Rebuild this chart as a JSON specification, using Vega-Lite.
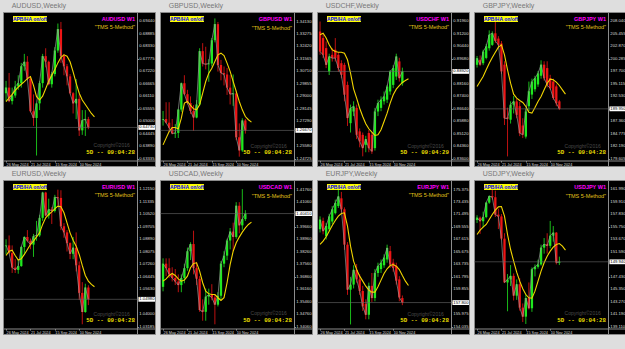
{
"$schema":"https://vega.github.io/schema/vega-lite/v6.json",
"background":"#dedede",
"padding":{"left":2,"top":1,"right":4,"bottom":16},
"spacing":2,
"config":{
 "view":{"fill":"#000000","stroke":"#8a8a8a","strokeWidth":1},
 "axis":{"grid":false,"labelFont":"Liberation Sans","labelFontSize":4.2,"labelColor":"#dcdcdc","tickColor":"#8c8c8c","domainColor":"#8c8c8c","tickSize":1.5,"labelPadding":0.5,"labelOverlap":false,"labelFlush":false,"labelBound":false},
 "text":{"font":"Liberation Sans"},
 "title":{"fontSize":7,"font":"Liberation Sans","color":"#787878","anchor":"start","offset":3,"fontWeight":"normal","dx":9},
 "concat":{"spacing":3}
},
"datasets":{
"AUDUSD_t":[{"v":0.6944},{"v":0.68885},{"v":0.6833},{"v":0.67775},{"v":0.6722},{"v":0.66665},{"v":0.6611},{"v":0.65555},{"v":0.65},{"v":0.64445},{"v":0.6389},{"v":0.63335}],
"GBPUSD_t":[{"v":1.3413},{"v":1.33275},{"v":1.3242},{"v":1.31565},{"v":1.3071},{"v":1.29855},{"v":1.29},{"v":1.28145},{"v":1.2729},{"v":1.2558},{"v":1.24725}],
"USDCHF_t":[{"v":0.9196},{"v":0.912},{"v":0.9044},{"v":0.8968},{"v":0.8816},{"v":0.874},{"v":0.8664},{"v":0.8588},{"v":0.8512},{"v":0.8436},{"v":0.836}],
"GBPJPY_t":[{"v":208.04},{"v":205.455},{"v":202.87},{"v":200.285},{"v":197.7},{"v":195.115},{"v":192.53},{"v":187.36},{"v":184.775},{"v":182.19},{"v":179.605}],
"EURUSD_t":[{"v":1.1215},{"v":1.11335},{"v":1.1052},{"v":1.09705},{"v":1.0889},{"v":1.08075},{"v":1.0726},{"v":1.06445},{"v":1.0563},{"v":1.04},{"v":1.03185}],
"USDCAD_t":[{"v":1.4176},{"v":1.4106},{"v":1.3966},{"v":1.3896},{"v":1.3826},{"v":1.3756},{"v":1.3686},{"v":1.3616},{"v":1.3546},{"v":1.3476},{"v":1.3406}],
"EURJPY_t":[{"v":175.375},{"v":173.435},{"v":171.495},{"v":169.555},{"v":167.615},{"v":165.675},{"v":163.735},{"v":161.795},{"v":159.855},{"v":155.975},{"v":154.035}],
"USDJPY_t":[{"v":161.99},{"v":159.91},{"v":157.83},{"v":155.75},{"v":153.67},{"v":151.59},{"v":147.43},{"v":145.35},{"v":143.27},{"v":141.19},{"v":139.11}],
"AUDUSD":[{"d":"2024-05-26","o":0.6625,"h":0.668,"l":0.659,"c":0.665},{"d":"2024-06-02","o":0.665,"h":0.6715,"l":0.6585,"c":0.659},{"d":"2024-06-09","o":0.659,"h":0.665,"l":0.6575,"c":0.6615},{"d":"2024-06-16","o":0.6615,"h":0.668,"l":0.6605,"c":0.6655},{"d":"2024-06-23","o":0.6655,"h":0.6705,"l":0.664,"c":0.667},{"d":"2024-06-30","o":0.667,"h":0.676,"l":0.665,"c":0.6745},{"d":"2024-07-07","o":0.6745,"h":0.68,"l":0.6725,"c":0.6765},{"d":"2024-07-14","o":0.6765,"h":0.679,"l":0.6685,"c":0.669},{"d":"2024-07-21","o":0.669,"h":0.67,"l":0.654,"c":0.6545},{"d":"2024-07-28","o":0.6545,"h":0.662,"l":0.648,"c":0.6515},{"d":"2024-08-04","o":0.6515,"h":0.658,"l":0.6348,"c":0.658},{"d":"2024-08-11","o":0.658,"h":0.668,"l":0.655,"c":0.667},{"d":"2024-08-18","o":0.667,"h":0.68,"l":0.665,"c":0.679},{"d":"2024-08-25","o":0.679,"h":0.6825,"l":0.674,"c":0.6765},{"d":"2024-09-01","o":0.6765,"h":0.677,"l":0.666,"c":0.6665},{"d":"2024-09-08","o":0.6665,"h":0.672,"l":0.665,"c":0.671},{"d":"2024-09-15","o":0.671,"h":0.683,"l":0.67,"c":0.6815},{"d":"2024-09-22","o":0.6815,"h":0.6935,"l":0.6805,"c":0.691},{"d":"2024-09-29","o":0.691,"h":0.6942,"l":0.676,"c":0.679},{"d":"2024-10-06","o":0.679,"h":0.68,"l":0.6705,"c":0.6745},{"d":"2024-10-13","o":0.6745,"h":0.6755,"l":0.666,"c":0.67},{"d":"2024-10-20","o":0.67,"h":0.671,"l":0.662,"c":0.6625},{"d":"2024-10-27","o":0.6625,"h":0.663,"l":0.6535,"c":0.658},{"d":"2024-11-03","o":0.658,"h":0.6688,"l":0.651,"c":0.66},{"d":"2024-11-10","o":0.66,"h":0.662,"l":0.6435,"c":0.646},{"d":"2024-11-17","o":0.646,"h":0.655,"l":0.644,"c":0.6505},{"d":"2024-11-24","o":0.6505,"h":0.655,"l":0.6435,"c":0.651},{"d":"2024-12-01","o":0.651,"h":0.652,"l":0.6465,"c":0.6473}],
"AUDUSD_m":[{"d":"2024-05-26","v":0.6588},{"d":"2024-06-02","v":0.6605},{"d":"2024-06-09","v":0.662},{"d":"2024-06-16","v":0.6638},{"d":"2024-06-23","v":0.6652},{"d":"2024-06-30","v":0.6665},{"d":"2024-07-07","v":0.6677},{"d":"2024-07-14","v":0.669},{"d":"2024-07-21","v":0.6699},{"d":"2024-07-28","v":0.666},{"d":"2024-08-04","v":0.661},{"d":"2024-08-11","v":0.6595},{"d":"2024-08-18","v":0.6612},{"d":"2024-08-25","v":0.6645},{"d":"2024-09-01","v":0.668},{"d":"2024-09-08","v":0.6705},{"d":"2024-09-15","v":0.673},{"d":"2024-09-22","v":0.676},{"d":"2024-09-29","v":0.6785},{"d":"2024-10-06","v":0.6796},{"d":"2024-10-13","v":0.679},{"d":"2024-10-20","v":0.6765},{"d":"2024-10-27","v":0.672},{"d":"2024-11-03","v":0.667},{"d":"2024-11-10","v":0.6625},{"d":"2024-11-17","v":0.6595},{"d":"2024-11-24","v":0.6575},{"d":"2024-12-01","v":0.6555},{"d":"2024-12-08","v":0.6535},{"d":"2024-12-15","v":0.652}],
"GBPUSD":[{"d":"2024-05-26","o":1.274,"h":1.28,"l":1.27,"c":1.2745},{"d":"2024-06-02","o":1.2745,"h":1.286,"l":1.2715,"c":1.272},{"d":"2024-06-09","o":1.272,"h":1.286,"l":1.2655,"c":1.2685},{"d":"2024-06-16","o":1.2685,"h":1.2745,"l":1.264,"c":1.2645},{"d":"2024-06-23","o":1.2645,"h":1.271,"l":1.2615,"c":1.265},{"d":"2024-06-30","o":1.265,"h":1.2815,"l":1.2615,"c":1.281},{"d":"2024-07-07","o":1.281,"h":1.2995,"l":1.2795,"c":1.299},{"d":"2024-07-14","o":1.299,"h":1.3045,"l":1.291,"c":1.2915},{"d":"2024-07-21","o":1.2915,"h":1.2945,"l":1.2845,"c":1.2855},{"d":"2024-07-28","o":1.2855,"h":1.29,"l":1.278,"c":1.28},{"d":"2024-08-04","o":1.28,"h":1.284,"l":1.2665,"c":1.2755},{"d":"2024-08-11","o":1.2755,"h":1.2875,"l":1.275,"c":1.2845},{"d":"2024-08-18","o":1.2845,"h":1.323,"l":1.2835,"c":1.321},{"d":"2024-08-25","o":1.321,"h":1.3265,"l":1.3105,"c":1.3125},{"d":"2024-09-01","o":1.3125,"h":1.324,"l":1.3085,"c":1.312},{"d":"2024-09-08","o":1.312,"h":1.3155,"l":1.3,"c":1.3125},{"d":"2024-09-15","o":1.3125,"h":1.33,"l":1.3105,"c":1.3285},{"d":"2024-09-22","o":1.3285,"h":1.3434,"l":1.327,"c":1.3395},{"d":"2024-09-29","o":1.3395,"h":1.341,"l":1.307,"c":1.3115},{"d":"2024-10-06","o":1.3115,"h":1.315,"l":1.301,"c":1.306},{"d":"2024-10-13","o":1.306,"h":1.3105,"l":1.2975,"c":1.305},{"d":"2024-10-20","o":1.305,"h":1.3095,"l":1.291,"c":1.296},{"d":"2024-10-27","o":1.296,"h":1.3045,"l":1.2845,"c":1.2915},{"d":"2024-11-03","o":1.2915,"h":1.305,"l":1.2835,"c":1.292},{"d":"2024-11-10","o":1.292,"h":1.294,"l":1.26,"c":1.262},{"d":"2024-11-17","o":1.262,"h":1.2715,"l":1.2487,"c":1.253},{"d":"2024-11-24","o":1.253,"h":1.275,"l":1.252,"c":1.2735},{"d":"2024-12-01","o":1.2735,"h":1.2745,"l":1.2645,"c":1.2667}],
"GBPUSD_m":[{"d":"2024-05-26","v":1.2568},{"d":"2024-06-02","v":1.2614},{"d":"2024-06-09","v":1.266},{"d":"2024-06-16","v":1.2687},{"d":"2024-06-23","v":1.2687},{"d":"2024-06-30","v":1.2678},{"d":"2024-07-07","v":1.2751},{"d":"2024-07-14","v":1.2854},{"d":"2024-07-21","v":1.2865},{"d":"2024-07-28","v":1.2838},{"d":"2024-08-04","v":1.2815},{"d":"2024-08-11","v":1.2808},{"d":"2024-08-18","v":1.2842},{"d":"2024-08-25","v":1.2922},{"d":"2024-09-01","v":1.3002},{"d":"2024-09-08","v":1.3059},{"d":"2024-09-15","v":1.3093},{"d":"2024-09-22","v":1.3139},{"d":"2024-09-29","v":1.3185},{"d":"2024-10-06","v":1.3196},{"d":"2024-10-13","v":1.318},{"d":"2024-10-20","v":1.3128},{"d":"2024-10-27","v":1.3071},{"d":"2024-11-03","v":1.3002},{"d":"2024-11-10","v":1.2934},{"d":"2024-11-17","v":1.2865},{"d":"2024-11-24","v":1.2808},{"d":"2024-12-01","v":1.2762},{"d":"2024-12-08","v":1.274},{"d":"2024-12-15","v":1.2724}],
"USDCHF":[{"d":"2024-05-26","o":0.9135,"h":0.9196,"l":0.8993,"c":0.9013},{"d":"2024-06-02","o":0.9095,"h":0.912,"l":0.8973,"c":0.8993},{"d":"2024-06-09","o":0.9034,"h":0.9075,"l":0.8912,"c":0.8932},{"d":"2024-06-16","o":0.8892,"h":0.9,"l":0.887,"c":0.8983},{"d":"2024-06-23","o":0.8993,"h":0.9034,"l":0.8952,"c":0.8973},{"d":"2024-06-30","o":0.9024,"h":0.9095,"l":0.8952,"c":0.8973},{"d":"2024-07-07","o":0.8993,"h":0.901,"l":0.889,"c":0.8912},{"d":"2024-07-14","o":0.8942,"h":0.896,"l":0.885,"c":0.8871},{"d":"2024-07-21","o":0.8932,"h":0.8945,"l":0.871,"c":0.875},{"d":"2024-07-28","o":0.881,"h":0.883,"l":0.856,"c":0.8608},{"d":"2024-08-04","o":0.8577,"h":0.869,"l":0.852,"c":0.8668},{"d":"2024-08-11","o":0.8648,"h":0.871,"l":0.862,"c":0.8679},{"d":"2024-08-18","o":0.867,"h":0.869,"l":0.848,"c":0.8506},{"d":"2024-08-25","o":0.8527,"h":0.8545,"l":0.843,"c":0.8466},{"d":"2024-09-01","o":0.8506,"h":0.852,"l":0.8375,"c":0.8425},{"d":"2024-09-08","o":0.8445,"h":0.85,"l":0.84,"c":0.848},{"d":"2024-09-15","o":0.8517,"h":0.8535,"l":0.84,"c":0.8425},{"d":"2024-09-22","o":0.8506,"h":0.852,"l":0.839,"c":0.8405},{"d":"2024-09-29","o":0.8425,"h":0.867,"l":0.841,"c":0.8648},{"d":"2024-10-06","o":0.8648,"h":0.872,"l":0.862,"c":0.8699},{"d":"2024-10-13","o":0.867,"h":0.874,"l":0.865,"c":0.872},{"d":"2024-10-20","o":0.871,"h":0.877,"l":0.869,"c":0.874},{"d":"2024-10-27","o":0.872,"h":0.881,"l":0.87,"c":0.88},{"d":"2024-11-03","o":0.877,"h":0.89,"l":0.875,"c":0.8892},{"d":"2024-11-10","o":0.881,"h":0.893,"l":0.879,"c":0.8912},{"d":"2024-11-17","o":0.8861,"h":0.9,"l":0.884,"c":0.8983},{"d":"2024-11-24","o":0.8953,"h":0.8975,"l":0.883,"c":0.8851},{"d":"2024-12-01","o":0.882,"h":0.8915,"l":0.8805,"c":0.8892}],
"USDCHF_m":[{"d":"2024-05-26","v":0.9115},{"d":"2024-06-02","v":0.9125},{"d":"2024-06-09","v":0.9095},{"d":"2024-06-16","v":0.9054},{"d":"2024-06-23","v":0.9024},{"d":"2024-06-30","v":0.9013},{"d":"2024-07-07","v":0.9009},{"d":"2024-07-14","v":0.9009},{"d":"2024-07-21","v":0.9003},{"d":"2024-07-28","v":0.8963},{"d":"2024-08-04","v":0.8881},{"d":"2024-08-11","v":0.8786},{"d":"2024-08-18","v":0.8729},{"d":"2024-08-25","v":0.8668},{"d":"2024-09-01","v":0.8618},{"d":"2024-09-08","v":0.8573},{"d":"2024-09-15","v":0.8543},{"d":"2024-09-22","v":0.8522},{"d":"2024-09-29","v":0.8502},{"d":"2024-10-06","v":0.8506},{"d":"2024-10-13","v":0.8537},{"d":"2024-10-20","v":0.8587},{"d":"2024-10-27","v":0.8638},{"d":"2024-11-03","v":0.8699},{"d":"2024-11-10","v":0.875},{"d":"2024-11-17","v":0.8784},{"d":"2024-11-24","v":0.8806},{"d":"2024-12-01","v":0.8825},{"d":"2024-12-08","v":0.8837},{"d":"2024-12-15","v":0.8847}],
"GBPJPY":[{"d":"2024-05-26","o":199.07,"h":200.9,"l":198.5,"c":200.45},{"d":"2024-06-02","o":200.1,"h":201.0,"l":198.8,"c":199.1},{"d":"2024-06-09","o":199.4,"h":202.2,"l":199.0,"c":201.8},{"d":"2024-06-16","o":200.5,"h":203.4,"l":200.2,"c":202.9},{"d":"2024-06-23","o":202.5,"h":206.2,"l":202.0,"c":205.3},{"d":"2024-06-30","o":203.2,"h":206.0,"l":203.0,"c":205.6},{"d":"2024-07-07","o":205.6,"h":208.04,"l":203.6,"c":204.0},{"d":"2024-07-14","o":204.5,"h":205.0,"l":202.6,"c":203.2},{"d":"2024-07-21","o":203.5,"h":204.0,"l":197.2,"c":197.7},{"d":"2024-07-28","o":199.1,"h":199.8,"l":186.6,"c":188.0},{"d":"2024-08-04","o":188.2,"h":190.2,"l":180.1,"c":187.9},{"d":"2024-08-11","o":187.7,"h":191.5,"l":186.9,"c":190.8},{"d":"2024-08-18","o":190.8,"h":192.6,"l":189.0,"c":191.5},{"d":"2024-08-25","o":191.5,"h":192.0,"l":188.0,"c":188.7},{"d":"2024-09-01","o":190.5,"h":191.4,"l":184.3,"c":184.9},{"d":"2024-09-08","o":186.5,"h":188.0,"l":183.9,"c":184.6},{"d":"2024-09-15","o":184.2,"h":190.0,"l":183.8,"c":189.4},{"d":"2024-09-22","o":190.5,"h":195.6,"l":189.5,"c":193.6},{"d":"2024-09-29","o":192.9,"h":196.2,"l":192.0,"c":195.6},{"d":"2024-10-06","o":194.0,"h":196.8,"l":193.5,"c":196.3},{"d":"2024-10-13","o":195.0,"h":197.8,"l":194.5,"c":197.3},{"d":"2024-10-20","o":196.8,"h":200.0,"l":196.2,"c":199.1},{"d":"2024-10-27","o":199.1,"h":199.8,"l":195.8,"c":196.3},{"d":"2024-11-03","o":198.4,"h":199.8,"l":194.4,"c":194.9},{"d":"2024-11-10","o":196.3,"h":197.0,"l":193.9,"c":194.2},{"d":"2024-11-17","o":195.6,"h":196.2,"l":191.8,"c":192.2},{"d":"2024-11-24","o":194.6,"h":195.0,"l":190.5,"c":191.1},{"d":"2024-12-01","o":191.5,"h":191.8,"l":189.7,"c":189.95}],
"GBPJPY_m":[{"d":"2024-05-26","v":194.58},{"d":"2024-06-02","v":195.61},{"d":"2024-06-09","v":196.65},{"d":"2024-06-16","v":198.03},{"d":"2024-06-23","v":199.41},{"d":"2024-06-30","v":200.58},{"d":"2024-07-07","v":201.69},{"d":"2024-07-14","v":202.72},{"d":"2024-07-21","v":203.21},{"d":"2024-07-28","v":201.14},{"d":"2024-08-04","v":198.03},{"d":"2024-08-11","v":195.27},{"d":"2024-08-18","v":192.99},{"d":"2024-08-25","v":192.16},{"d":"2024-09-01","v":191.68},{"d":"2024-09-08","v":191.27},{"d":"2024-09-15","v":190.44},{"d":"2024-09-22","v":189.26},{"d":"2024-09-29","v":189.06},{"d":"2024-10-06","v":190.23},{"d":"2024-10-13","v":191.47},{"d":"2024-10-20","v":192.51},{"d":"2024-10-27","v":193.89},{"d":"2024-11-03","v":195.27},{"d":"2024-11-10","v":196.1},{"d":"2024-11-17","v":195.96},{"d":"2024-11-24","v":195.48},{"d":"2024-12-01","v":194.79},{"d":"2024-12-08","v":193.89},{"d":"2024-12-15","v":192.99}],
"EURUSD":[{"d":"2024-05-26","o":1.0845,"h":1.089,"l":1.079,"c":1.085},{"d":"2024-06-02","o":1.085,"h":1.0915,"l":1.0795,"c":1.08},{"d":"2024-06-09","o":1.08,"h":1.085,"l":1.067,"c":1.0705},{"d":"2024-06-16","o":1.0705,"h":1.076,"l":1.067,"c":1.069},{"d":"2024-06-23","o":1.069,"h":1.076,"l":1.0665,"c":1.0715},{"d":"2024-06-30","o":1.0715,"h":1.0845,"l":1.071,"c":1.084},{"d":"2024-07-07","o":1.084,"h":1.091,"l":1.079,"c":1.0905},{"d":"2024-07-14","o":1.0905,"h":1.095,"l":1.087,"c":1.088},{"d":"2024-07-21","o":1.088,"h":1.0895,"l":1.0825,"c":1.0855},{"d":"2024-07-28","o":1.0855,"h":1.0925,"l":1.0775,"c":1.091},{"d":"2024-08-04","o":1.091,"h":1.101,"l":1.088,"c":1.0915},{"d":"2024-08-11","o":1.0915,"h":1.105,"l":1.0905,"c":1.103},{"d":"2024-08-18","o":1.103,"h":1.12,"l":1.101,"c":1.1195},{"d":"2024-08-25","o":1.1195,"h":1.12,"l":1.104,"c":1.1045},{"d":"2024-09-01","o":1.1045,"h":1.1155,"l":1.1025,"c":1.1085},{"d":"2024-09-08","o":1.1085,"h":1.11,"l":1.099,"c":1.1075},{"d":"2024-09-15","o":1.1075,"h":1.118,"l":1.1065,"c":1.1165},{"d":"2024-09-22","o":1.1165,"h":1.1214,"l":1.111,"c":1.116},{"d":"2024-09-29","o":1.116,"h":1.121,"l":1.095,"c":1.0975},{"d":"2024-10-06","o":1.0975,"h":1.0995,"l":1.09,"c":1.0935},{"d":"2024-10-13","o":1.0935,"h":1.095,"l":1.081,"c":1.0865},{"d":"2024-10-20","o":1.0865,"h":1.087,"l":1.076,"c":1.0795},{"d":"2024-10-27","o":1.0795,"h":1.0905,"l":1.076,"c":1.0835},{"d":"2024-11-03","o":1.0835,"h":1.0935,"l":1.068,"c":1.072},{"d":"2024-11-10","o":1.072,"h":1.0745,"l":1.0495,"c":1.054},{"d":"2024-11-17","o":1.054,"h":1.061,"l":1.0335,"c":1.0415},{"d":"2024-11-24","o":1.0415,"h":1.06,"l":1.041,"c":1.0575},{"d":"2024-12-01","o":1.0575,"h":1.059,"l":1.046,"c":1.0498}],
"EURUSD_m":[{"d":"2024-05-26","v":1.0784},{"d":"2024-06-02","v":1.0812},{"d":"2024-06-09","v":1.0819},{"d":"2024-06-16","v":1.0784},{"d":"2024-06-23","v":1.0754},{"d":"2024-06-30","v":1.0762},{"d":"2024-07-07","v":1.0791},{"d":"2024-07-14","v":1.0823},{"d":"2024-07-21","v":1.0856},{"d":"2024-07-28","v":1.0878},{"d":"2024-08-04","v":1.0906},{"d":"2024-08-11","v":1.0932},{"d":"2024-08-18","v":1.0987},{"d":"2024-08-25","v":1.103},{"d":"2024-09-01","v":1.1052},{"d":"2024-09-08","v":1.1069},{"d":"2024-09-15","v":1.1089},{"d":"2024-09-22","v":1.1106},{"d":"2024-09-29","v":1.1102},{"d":"2024-10-06","v":1.1063},{"d":"2024-10-13","v":1.0997},{"d":"2024-10-20","v":1.0932},{"d":"2024-10-27","v":1.0884},{"d":"2024-11-03","v":1.0845},{"d":"2024-11-10","v":1.0791},{"d":"2024-11-17","v":1.0719},{"d":"2024-11-24","v":1.0654},{"d":"2024-12-01","v":1.0617},{"d":"2024-12-08","v":1.0595},{"d":"2024-12-15","v":1.058}],
"USDCAD":[{"d":"2024-05-26","o":1.363,"h":1.379,"l":1.3605,"c":1.376},{"d":"2024-06-02","o":1.376,"h":1.379,"l":1.369,"c":1.3735},{"d":"2024-06-09","o":1.3735,"h":1.379,"l":1.368,"c":1.37},{"d":"2024-06-16","o":1.37,"h":1.374,"l":1.366,"c":1.368},{"d":"2024-06-23","o":1.368,"h":1.373,"l":1.364,"c":1.366},{"d":"2024-06-30","o":1.366,"h":1.37,"l":1.36,"c":1.364},{"d":"2024-07-07","o":1.364,"h":1.37,"l":1.36,"c":1.368},{"d":"2024-07-14","o":1.368,"h":1.376,"l":1.365,"c":1.3735},{"d":"2024-07-21","o":1.3735,"h":1.385,"l":1.372,"c":1.383},{"d":"2024-07-28","o":1.383,"h":1.388,"l":1.378,"c":1.387},{"d":"2024-08-04","o":1.387,"h":1.3945,"l":1.37,"c":1.3735},{"d":"2024-08-11","o":1.3735,"h":1.377,"l":1.364,"c":1.3675},{"d":"2024-08-18","o":1.3675,"h":1.369,"l":1.349,"c":1.35},{"d":"2024-08-25","o":1.35,"h":1.356,"l":1.344,"c":1.349},{"d":"2024-09-01","o":1.349,"h":1.362,"l":1.344,"c":1.3575},{"d":"2024-09-08","o":1.3575,"h":1.362,"l":1.353,"c":1.3585},{"d":"2024-09-15","o":1.3585,"h":1.3645,"l":1.3555,"c":1.357},{"d":"2024-09-22","o":1.357,"h":1.359,"l":1.342,"c":1.353},{"d":"2024-09-29","o":1.353,"h":1.36,"l":1.352,"c":1.358},{"d":"2024-10-06","o":1.358,"h":1.3775,"l":1.356,"c":1.376},{"d":"2024-10-13","o":1.376,"h":1.383,"l":1.374,"c":1.3805},{"d":"2024-10-20","o":1.3805,"h":1.39,"l":1.378,"c":1.389},{"d":"2024-10-27","o":1.389,"h":1.396,"l":1.384,"c":1.394},{"d":"2024-11-03","o":1.394,"h":1.399,"l":1.383,"c":1.391},{"d":"2024-11-10","o":1.391,"h":1.4105,"l":1.39,"c":1.4085},{"d":"2024-11-17","o":1.4085,"h":1.4105,"l":1.393,"c":1.3975},{"d":"2024-11-24","o":1.3975,"h":1.4178,"l":1.395,"c":1.401},{"d":"2024-12-01","o":1.401,"h":1.406,"l":1.4,"c":1.4041}],
"USDCAD_m":[{"d":"2024-05-26","v":1.3662},{"d":"2024-06-02","v":1.3675},{"d":"2024-06-09","v":1.3694},{"d":"2024-06-16","v":1.3705},{"d":"2024-06-23","v":1.3694},{"d":"2024-06-30","v":1.3675},{"d":"2024-07-07","v":1.3662},{"d":"2024-07-14","v":1.3668},{"d":"2024-07-21","v":1.369},{"d":"2024-07-28","v":1.3737},{"d":"2024-08-04","v":1.3761},{"d":"2024-08-11","v":1.3765},{"d":"2024-08-18","v":1.3718},{"d":"2024-08-25","v":1.3653},{"d":"2024-09-01","v":1.3606},{"d":"2024-09-08","v":1.3591},{"d":"2024-09-15","v":1.3587},{"d":"2024-09-22","v":1.3587},{"d":"2024-09-29","v":1.3569},{"d":"2024-10-06","v":1.3554},{"d":"2024-10-13","v":1.3569},{"d":"2024-10-20","v":1.3653},{"d":"2024-10-27","v":1.3755},{"d":"2024-11-03","v":1.383},{"d":"2024-11-10","v":1.3877},{"d":"2024-11-17","v":1.3909},{"d":"2024-11-24","v":1.3937},{"d":"2024-12-01","v":1.3961},{"d":"2024-12-08","v":1.398},{"d":"2024-12-15","v":1.3993}],
"EURJPY":[{"d":"2024-05-26","o":169.2,"h":171.2,"l":168.7,"c":170.7},{"d":"2024-06-02","o":170.5,"h":171.0,"l":168.4,"c":168.9},{"d":"2024-06-09","o":168.1,"h":170.2,"l":167.6,"c":169.7},{"d":"2024-06-16","o":169.2,"h":171.6,"l":168.9,"c":171.2},{"d":"2024-06-23","o":170.4,"h":172.8,"l":170.0,"c":172.3},{"d":"2024-06-30","o":171.7,"h":173.8,"l":171.5,"c":173.3},{"d":"2024-07-07","o":172.8,"h":175.38,"l":172.5,"c":174.3},{"d":"2024-07-14","o":174.0,"h":175.0,"l":171.8,"c":172.3},{"d":"2024-07-21","o":172.3,"h":172.6,"l":166.0,"c":166.8},{"d":"2024-07-28","o":166.8,"h":167.2,"l":159.0,"c":159.8},{"d":"2024-08-04","o":159.8,"h":161.8,"l":154.4,"c":160.6},{"d":"2024-08-11","o":160.6,"h":163.6,"l":160.0,"c":162.9},{"d":"2024-08-18","o":162.9,"h":163.8,"l":160.9,"c":161.4},{"d":"2024-08-25","o":161.4,"h":162.2,"l":159.0,"c":159.6},{"d":"2024-09-01","o":159.6,"h":160.4,"l":156.5,"c":157.2},{"d":"2024-09-08","o":157.6,"h":158.3,"l":155.2,"c":155.9},{"d":"2024-09-15","o":155.9,"h":160.9,"l":155.2,"c":160.4},{"d":"2024-09-22","o":160.4,"h":162.4,"l":157.9,"c":158.5},{"d":"2024-09-29","o":158.5,"h":163.0,"l":158.0,"c":162.4},{"d":"2024-10-06","o":162.4,"h":164.0,"l":161.8,"c":163.5},{"d":"2024-10-13","o":163.0,"h":164.5,"l":162.4,"c":164.0},{"d":"2024-10-20","o":163.6,"h":165.3,"l":163.2,"c":164.8},{"d":"2024-10-27","o":164.5,"h":166.8,"l":164.0,"c":166.3},{"d":"2024-11-03","o":165.8,"h":166.6,"l":163.2,"c":163.7},{"d":"2024-11-10","o":164.0,"h":164.6,"l":162.6,"c":163.2},{"d":"2024-11-17","o":163.5,"h":164.0,"l":160.6,"c":161.2},{"d":"2024-11-24","o":161.4,"h":161.9,"l":158.0,"c":158.6},{"d":"2024-12-01","o":158.5,"h":158.9,"l":157.4,"c":157.8}],
"EURJPY_m":[{"d":"2024-05-26","v":166.83},{"d":"2024-06-02","v":167.35},{"d":"2024-06-09","v":168.02},{"d":"2024-06-16","v":168.9},{"d":"2024-06-23","v":169.78},{"d":"2024-06-30","v":170.56},{"d":"2024-07-07","v":171.23},{"d":"2024-07-14","v":171.65},{"d":"2024-07-21","v":171.75},{"d":"2024-07-28","v":169.68},{"d":"2024-08-04","v":166.57},{"d":"2024-08-11","v":164.24},{"d":"2024-08-18","v":162.94},{"d":"2024-08-25","v":161.91},{"d":"2024-09-01","v":161.13},{"d":"2024-09-08","v":160.35},{"d":"2024-09-15","v":159.73},{"d":"2024-09-22","v":159.42},{"d":"2024-09-29","v":159.42},{"d":"2024-10-06","v":160.25},{"d":"2024-10-13","v":161.29},{"d":"2024-10-20","v":162.32},{"d":"2024-10-27","v":163.05},{"d":"2024-11-03","v":163.56},{"d":"2024-11-10","v":163.72},{"d":"2024-11-17","v":163.46},{"d":"2024-11-24","v":162.94},{"d":"2024-12-01","v":162.01},{"d":"2024-12-08","v":161.13},{"d":"2024-12-15","v":160.46}],
"USDJPY":[{"d":"2024-05-26","o":156.9,"h":157.7,"l":156.4,"c":157.3},{"d":"2024-06-02","o":157.3,"h":157.5,"l":154.6,"c":156.7},{"d":"2024-06-09","o":156.7,"h":158.3,"l":155.7,"c":157.4},{"d":"2024-06-16","o":157.4,"h":159.9,"l":157.2,"c":159.8},{"d":"2024-06-23","o":159.8,"h":161.0,"l":159.6,"c":160.9},{"d":"2024-06-30","o":160.9,"h":161.95,"l":160.3,"c":160.7},{"d":"2024-07-07","o":160.7,"h":161.8,"l":157.4,"c":157.8},{"d":"2024-07-14","o":157.8,"h":158.8,"l":155.4,"c":157.5},{"d":"2024-07-21","o":157.5,"h":157.9,"l":153.6,"c":153.8},{"d":"2024-07-28","o":153.8,"h":154.7,"l":146.4,"c":146.5},{"d":"2024-08-04","o":146.5,"h":147.9,"l":141.7,"c":147.0},{"d":"2024-08-11","o":147.0,"h":149.4,"l":145.9,"c":147.6},{"d":"2024-08-18","o":147.6,"h":148.0,"l":143.5,"c":144.3},{"d":"2024-08-25","o":144.3,"h":147.0,"l":143.6,"c":146.2},{"d":"2024-09-01","o":146.2,"h":147.2,"l":141.8,"c":142.3},{"d":"2024-09-08","o":142.3,"h":143.0,"l":139.9,"c":140.8},{"d":"2024-09-15","o":140.8,"h":144.5,"l":139.58,"c":143.9},{"d":"2024-09-22","o":143.9,"h":146.5,"l":142.0,"c":142.2},{"d":"2024-09-29","o":142.2,"h":149.0,"l":141.6,"c":148.7},{"d":"2024-10-06","o":148.7,"h":149.5,"l":147.5,"c":149.1},{"d":"2024-10-13","o":149.1,"h":150.3,"l":148.8,"c":149.5},{"d":"2024-10-20","o":149.5,"h":152.8,"l":149.3,"c":152.3},{"d":"2024-10-27","o":152.3,"h":153.9,"l":151.3,"c":152.9},{"d":"2024-11-03","o":152.9,"h":154.7,"l":151.3,"c":152.6},{"d":"2024-11-10","o":152.6,"h":156.75,"l":152.2,"c":154.3},{"d":"2024-11-17","o":154.3,"h":155.9,"l":153.3,"c":154.8},{"d":"2024-11-24","o":154.8,"h":154.9,"l":149.5,"c":149.8},{"d":"2024-12-01","o":149.8,"h":150.8,"l":149.4,"c":149.94}],
"USDJPY_m":[{"d":"2024-05-26","v":154.49},{"d":"2024-06-02","v":155.21},{"d":"2024-06-09","v":155.71},{"d":"2024-06-16","v":156.16},{"d":"2024-06-23","v":156.99},{"d":"2024-06-30","v":157.82},{"d":"2024-07-07","v":158.55},{"d":"2024-07-14","v":159.1},{"d":"2024-07-21","v":159.16},{"d":"2024-07-28","v":157.55},{"d":"2024-08-04","v":154.49},{"d":"2024-08-11","v":151.99},{"d":"2024-08-18","v":150.05},{"d":"2024-08-25","v":148.22},{"d":"2024-09-01","v":146.72},{"d":"2024-09-08","v":145.44},{"d":"2024-09-15","v":144.49},{"d":"2024-09-22","v":143.94},{"d":"2024-09-29","v":143.88},{"d":"2024-10-06","v":145.05},{"d":"2024-10-13","v":146.72},{"d":"2024-10-20","v":148.38},{"d":"2024-10-27","v":149.77},{"d":"2024-11-03","v":150.88},{"d":"2024-11-10","v":151.72},{"d":"2024-11-17","v":152.38},{"d":"2024-11-24","v":152.83},{"d":"2024-12-01","v":152.99},{"d":"2024-12-08","v":152.55},{"d":"2024-12-15","v":151.88}]
},
"vconcat":[
{"hconcat":[
{"title":{"text":"AUDUSD,Weekly"},"width":152,"height":154,"layer":[
 {"data":{"name":"AUDUSD"},"mark":{"type":"rule","strokeWidth":0.8},"encoding":{"x":{"field":"d","type":"temporal","scale":{"domain":[{"year":2024,"month":5,"date":19},{"year":2025,"month":5,"date":3}],"nice":false,"padding":0},"axis":{"orient":"bottom","offset":-5.5,"values":[{"year":2024,"month":5,"date":26},{"year":2024,"month":7,"date":21},{"year":2024,"month":9,"date":15},{"year":2024,"month":11,"date":10}],"format":"%d %b %Y","labelAlign":"left","labelFontSize":3.8,"labelOverlap":false,"title":null}},"y":{"field":"l","type":"quantitative","scale":{"domain":[0.63015,0.69862],"nice":false,"zero":false,"padding":0},"axis":{"orient":"right","offset":-18,"values":[0.6944,0.68885,0.6833,0.67775,0.6722,0.66665,0.6611,0.65555,0.65,0.64445,0.6389,0.63335],"labels":false,"title":null}},"y2":{"field":"h"},"color":{"condition":{"test":"datum.c >= datum.o","value":"#1fe81f"},"value":"#ee1515"}}},
 {"data":{"name":"AUDUSD"},"mark":{"type":"bar","width":2.3},"encoding":{"x":{"field":"d","type":"temporal","title":null},"y":{"field":"o","type":"quantitative","title":null},"y2":{"field":"c"},"color":{"condition":{"test":"datum.c >= datum.o","value":"#1fe81f"},"value":"#ee1515"}}},
 {"data":{"name":"AUDUSD"},"mark":{"type":"line","color":"#9a9a9a","strokeWidth":0.7},"encoding":{"x":{"field":"d","type":"temporal","title":null},"y":{"field":"c","type":"quantitative","title":null}}},
 {"data":{"name":"AUDUSD_m"},"mark":{"type":"line","color":"#f2d500","strokeWidth":1.1},"encoding":{"x":{"field":"d","type":"temporal","title":null},"y":{"field":"v","type":"quantitative","title":null}}},
 {"data":{"values":[{}]},"mark":{"type":"rule","color":"#6a6a6a","strokeWidth":0.6},"encoding":{"y":{"datum":0.6473,"type":"quantitative","title":null}}},
 {"data":{"name":"AUDUSD_t"},"mark":{"type":"text","align":"left","baseline":"middle","fontSize":4.2,"color":"#dcdcdc"},"encoding":{"x":{"datum":{"year":2025,"month":3,"date":28},"type":"temporal","title":null},"y":{"field":"v","type":"quantitative","title":null},"text":{"field":"v","type":"quantitative","format":".5f"}}},
 {"data":{"values":[{}]},"mark":{"type":"rect","color":"#ffffff"},"encoding":{"x":{"datum":{"year":2025,"month":3,"date":26},"type":"temporal","title":null},"x2":{"datum":{"year":2025,"month":5,"date":3}},"y":{"datum":0.64837,"type":"quantitative","title":null},"y2":{"datum":0.64623}}},
 {"data":{"values":[{}]},"mark":{"type":"text","text":"0.64730","align":"left","baseline":"middle","fontSize":4.2,"color":"#000000"},"encoding":{"x":{"datum":{"year":2025,"month":3,"date":28},"type":"temporal","title":null},"y":{"datum":0.6473,"type":"quantitative","title":null}}},
 {"data":{"values":[{}]},"mark":{"type":"rect","color":"#ffff00"},"encoding":{"x":{"datum":{"year":2024,"month":6,"date":11},"type":"temporal","title":null},"x2":{"datum":{"year":2024,"month":8,"date":28}},"y":{"datum":0.696846,"type":"quantitative","title":null},"y2":{"datum":0.694178}}},
 {"data":{"values":[{}]},"mark":{"type":"text","text":"APB/HA on/off","color":"#0000ff","fontSize":5,"fontWeight":"bold","align":"center","baseline":"middle"},"encoding":{"x":{"datum":{"year":2024,"month":7,"date":20},"type":"temporal","title":null},"y":{"datum":0.695512,"type":"quantitative","title":null}}},
 {"data":{"values":[{}]},"mark":{"type":"text","text":"AUDUSD W1","color":"#ff00ff","fontSize":5.5,"fontWeight":"bold","align":"right","baseline":"middle"},"encoding":{"x":{"datum":{"year":2025,"month":3,"date":18},"type":"temporal","title":null},"y":{"datum":0.695512,"type":"quantitative","title":null}}},
 {"data":{"values":[{}]},"mark":{"type":"text","text":"\"TMS 5-Method\"","color":"#e3c21a","fontSize":5.5,"align":"right","baseline":"middle"},"encoding":{"x":{"datum":{"year":2025,"month":3,"date":18},"type":"temporal","title":null},"y":{"datum":0.691733,"type":"quantitative","title":null}}},
 {"data":{"values":[{}]},"mark":{"type":"text","text":"Copyright©2016","color":"#4a4a4a","fontSize":5,"align":"right","baseline":"middle"},"encoding":{"x":{"datum":{"year":2025,"month":3,"date":6},"type":"temporal","title":null},"y":{"datum":0.63927,"type":"quantitative","title":null}}},
 {"data":{"values":[{}]},"mark":{"type":"text","text":"5D -- 09:04:28","color":"#e6dc00","fontSize":5.8,"fontWeight":"bold","font":"Liberation Mono","align":"right","baseline":"middle"},"encoding":{"x":{"datum":{"year":2025,"month":3,"date":18},"type":"temporal","title":null},"y":{"datum":0.63638,"type":"quantitative","title":null}}}
]},
{"title":{"text":"GBPUSD,Weekly"},"width":152,"height":154,"layer":[
 {"data":{"name":"GBPUSD"},"mark":{"type":"rule","strokeWidth":0.8},"encoding":{"x":{"field":"d","type":"temporal","scale":{"domain":[{"year":2024,"month":5,"date":19},{"year":2025,"month":5,"date":3}],"nice":false,"padding":0},"axis":{"orient":"bottom","offset":-5.5,"values":[{"year":2024,"month":5,"date":26},{"year":2024,"month":7,"date":21},{"year":2024,"month":9,"date":15},{"year":2024,"month":11,"date":10}],"format":"%d %b %Y","labelAlign":"left","labelFontSize":3.8,"labelOverlap":false,"title":null}},"y":{"field":"l","type":"quantitative","scale":{"domain":[1.24232,1.34781],"nice":false,"zero":false,"padding":0},"axis":{"orient":"right","offset":-18,"values":[1.3413,1.33275,1.3242,1.31565,1.3071,1.29855,1.29,1.28145,1.2729,1.26435,1.2558,1.24725],"labels":false,"title":null}},"y2":{"field":"h"},"color":{"condition":{"test":"datum.c >= datum.o","value":"#1fe81f"},"value":"#ee1515"}}},
 {"data":{"name":"GBPUSD"},"mark":{"type":"bar","width":2.3},"encoding":{"x":{"field":"d","type":"temporal","title":null},"y":{"field":"o","type":"quantitative","title":null},"y2":{"field":"c"},"color":{"condition":{"test":"datum.c >= datum.o","value":"#1fe81f"},"value":"#ee1515"}}},
 {"data":{"name":"GBPUSD"},"mark":{"type":"line","color":"#9a9a9a","strokeWidth":0.7},"encoding":{"x":{"field":"d","type":"temporal","title":null},"y":{"field":"c","type":"quantitative","title":null}}},
 {"data":{"name":"GBPUSD_m"},"mark":{"type":"line","color":"#f2d500","strokeWidth":1.1},"encoding":{"x":{"field":"d","type":"temporal","title":null},"y":{"field":"v","type":"quantitative","title":null}}},
 {"data":{"values":[{}]},"mark":{"type":"rule","color":"#6a6a6a","strokeWidth":0.6},"encoding":{"y":{"datum":1.2667,"type":"quantitative","title":null}}},
 {"data":{"name":"GBPUSD_t"},"mark":{"type":"text","align":"left","baseline":"middle","fontSize":4.2,"color":"#dcdcdc"},"encoding":{"x":{"datum":{"year":2025,"month":3,"date":28},"type":"temporal","title":null},"y":{"field":"v","type":"quantitative","title":null},"text":{"field":"v","type":"quantitative","format":".5f"}}},
 {"data":{"values":[{}]},"mark":{"type":"rect","color":"#ffffff"},"encoding":{"x":{"datum":{"year":2025,"month":3,"date":26},"type":"temporal","title":null},"x2":{"datum":{"year":2025,"month":5,"date":3}},"y":{"datum":1.26834,"type":"quantitative","title":null},"y2":{"datum":1.26506}}},
 {"data":{"values":[{}]},"mark":{"type":"text","text":"1.26670","align":"left","baseline":"middle","fontSize":4.2,"color":"#000000"},"encoding":{"x":{"datum":{"year":2025,"month":3,"date":28},"type":"temporal","title":null},"y":{"datum":1.2667,"type":"quantitative","title":null}}},
 {"data":{"values":[{}]},"mark":{"type":"rect","color":"#ffff00"},"encoding":{"x":{"datum":{"year":2024,"month":6,"date":11},"type":"temporal","title":null},"x2":{"datum":{"year":2024,"month":8,"date":28}},"y":{"datum":1.345067,"type":"quantitative","title":null},"y2":{"datum":1.340957}}},
 {"data":{"values":[{}]},"mark":{"type":"text","text":"APB/HA on/off","color":"#0000ff","fontSize":5,"fontWeight":"bold","align":"center","baseline":"middle"},"encoding":{"x":{"datum":{"year":2024,"month":7,"date":20},"type":"temporal","title":null},"y":{"datum":1.343012,"type":"quantitative","title":null}}},
 {"data":{"values":[{}]},"mark":{"type":"text","text":"GBPUSD W1","color":"#ff00ff","fontSize":5.5,"fontWeight":"bold","align":"right","baseline":"middle"},"encoding":{"x":{"datum":{"year":2025,"month":3,"date":18},"type":"temporal","title":null},"y":{"datum":1.343012,"type":"quantitative","title":null}}},
 {"data":{"values":[{}]},"mark":{"type":"text","text":"\"TMS 5-Method\"","color":"#e3c21a","fontSize":5.5,"align":"right","baseline":"middle"},"encoding":{"x":{"datum":{"year":2025,"month":3,"date":18},"type":"temporal","title":null},"y":{"datum":1.337189,"type":"quantitative","title":null}}},
 {"data":{"values":[{}]},"mark":{"type":"text","text":"Copyright©2016","color":"#4a4a4a","fontSize":5,"align":"right","baseline":"middle"},"encoding":{"x":{"datum":{"year":2025,"month":3,"date":6},"type":"temporal","title":null},"y":{"datum":1.256359,"type":"quantitative","title":null}}},
 {"data":{"values":[{}]},"mark":{"type":"text","text":"5D -- 09:04:28","color":"#e6dc00","fontSize":5.8,"fontWeight":"bold","font":"Liberation Mono","align":"right","baseline":"middle"},"encoding":{"x":{"datum":{"year":2025,"month":3,"date":18},"type":"temporal","title":null},"y":{"datum":1.251907,"type":"quantitative","title":null}}}
]},
{"title":{"text":"USDCHF,Weekly"},"width":152,"height":154,"layer":[
 {"data":{"name":"USDCHF"},"mark":{"type":"rule","strokeWidth":0.8},"encoding":{"x":{"field":"d","type":"temporal","scale":{"domain":[{"year":2024,"month":5,"date":19},{"year":2025,"month":5,"date":3}],"nice":false,"padding":0},"axis":{"orient":"bottom","offset":-5.5,"values":[{"year":2024,"month":5,"date":26},{"year":2024,"month":7,"date":21},{"year":2024,"month":9,"date":15},{"year":2024,"month":11,"date":10}],"format":"%d %b %Y","labelAlign":"left","labelFontSize":3.8,"labelOverlap":false,"title":null}},"y":{"field":"l","type":"quantitative","scale":{"domain":[0.83162,0.92538],"nice":false,"zero":false,"padding":0},"axis":{"orient":"right","offset":-18,"values":[0.9196,0.912,0.9044,0.8968,0.8892,0.8816,0.874,0.8664,0.8588,0.8512,0.8436,0.836],"labels":false,"title":null}},"y2":{"field":"h"},"color":{"condition":{"test":"datum.c >= datum.o","value":"#1fe81f"},"value":"#ee1515"}}},
 {"data":{"name":"USDCHF"},"mark":{"type":"bar","width":2.3},"encoding":{"x":{"field":"d","type":"temporal","title":null},"y":{"field":"o","type":"quantitative","title":null},"y2":{"field":"c"},"color":{"condition":{"test":"datum.c >= datum.o","value":"#1fe81f"},"value":"#ee1515"}}},
 {"data":{"name":"USDCHF"},"mark":{"type":"line","color":"#9a9a9a","strokeWidth":0.7},"encoding":{"x":{"field":"d","type":"temporal","title":null},"y":{"field":"c","type":"quantitative","title":null}}},
 {"data":{"name":"USDCHF_m"},"mark":{"type":"line","color":"#f2d500","strokeWidth":1.1},"encoding":{"x":{"field":"d","type":"temporal","title":null},"y":{"field":"v","type":"quantitative","title":null}}},
 {"data":{"values":[{}]},"mark":{"type":"rule","color":"#6a6a6a","strokeWidth":0.6},"encoding":{"y":{"datum":0.8892,"type":"quantitative","title":null}}},
 {"data":{"name":"USDCHF_t"},"mark":{"type":"text","align":"left","baseline":"middle","fontSize":4.2,"color":"#dcdcdc"},"encoding":{"x":{"datum":{"year":2025,"month":3,"date":28},"type":"temporal","title":null},"y":{"field":"v","type":"quantitative","title":null},"text":{"field":"v","type":"quantitative","format":".5f"}}},
 {"data":{"values":[{}]},"mark":{"type":"rect","color":"#ffffff"},"encoding":{"x":{"datum":{"year":2025,"month":3,"date":26},"type":"temporal","title":null},"x2":{"datum":{"year":2025,"month":5,"date":3}},"y":{"datum":0.89066,"type":"quantitative","title":null},"y2":{"datum":0.88774}}},
 {"data":{"values":[{}]},"mark":{"type":"text","text":"0.88920","align":"left","baseline":"middle","fontSize":4.2,"color":"#000000"},"encoding":{"x":{"datum":{"year":2025,"month":3,"date":28},"type":"temporal","title":null},"y":{"datum":0.8892,"type":"quantitative","title":null}}},
 {"data":{"values":[{}]},"mark":{"type":"rect","color":"#ffff00"},"encoding":{"x":{"datum":{"year":2024,"month":6,"date":11},"type":"temporal","title":null},"x2":{"datum":{"year":2024,"month":8,"date":28}},"y":{"datum":0.922948,"type":"quantitative","title":null},"y2":{"datum":0.919295}}},
 {"data":{"values":[{}]},"mark":{"type":"text","text":"APB/HA on/off","color":"#0000ff","fontSize":5,"fontWeight":"bold","align":"center","baseline":"middle"},"encoding":{"x":{"datum":{"year":2024,"month":7,"date":20},"type":"temporal","title":null},"y":{"datum":0.921122,"type":"quantitative","title":null}}},
 {"data":{"values":[{}]},"mark":{"type":"text","text":"USDCHF W1","color":"#ff00ff","fontSize":5.5,"fontWeight":"bold","align":"right","baseline":"middle"},"encoding":{"x":{"datum":{"year":2025,"month":3,"date":18},"type":"temporal","title":null},"y":{"datum":0.921122,"type":"quantitative","title":null}}},
 {"data":{"values":[{}]},"mark":{"type":"text","text":"\"TMS 5-Method\"","color":"#e3c21a","fontSize":5.5,"align":"right","baseline":"middle"},"encoding":{"x":{"datum":{"year":2025,"month":3,"date":18},"type":"temporal","title":null},"y":{"datum":0.915946,"type":"quantitative","title":null}}},
 {"data":{"values":[{}]},"mark":{"type":"text","text":"Copyright©2016","color":"#4a4a4a","fontSize":5,"align":"right","baseline":"middle"},"encoding":{"x":{"datum":{"year":2025,"month":3,"date":6},"type":"temporal","title":null},"y":{"datum":0.844096,"type":"quantitative","title":null}}},
 {"data":{"values":[{}]},"mark":{"type":"text","text":"5D -- 09:04:29","color":"#e6dc00","fontSize":5.8,"fontWeight":"bold","font":"Liberation Mono","align":"right","baseline":"middle"},"encoding":{"x":{"datum":{"year":2025,"month":3,"date":18},"type":"temporal","title":null},"y":{"datum":0.840138,"type":"quantitative","title":null}}}
]},
{"title":{"text":"GBPJPY,Weekly"},"width":152,"height":154,"layer":[
 {"data":{"name":"GBPJPY"},"mark":{"type":"rule","strokeWidth":0.8},"encoding":{"x":{"field":"d","type":"temporal","scale":{"domain":[{"year":2024,"month":5,"date":19},{"year":2025,"month":5,"date":3}],"nice":false,"padding":0},"axis":{"orient":"bottom","offset":-5.5,"values":[{"year":2024,"month":5,"date":26},{"year":2024,"month":7,"date":21},{"year":2024,"month":9,"date":15},{"year":2024,"month":11,"date":10}],"format":"%d %b %Y","labelAlign":"left","labelFontSize":3.8,"labelOverlap":false,"title":null}},"y":{"field":"l","type":"quantitative","scale":{"domain":[178.114,210.007],"nice":false,"zero":false,"padding":0},"axis":{"orient":"right","offset":-18,"values":[208.04,205.455,202.87,200.285,197.7,195.115,192.53,189.945,187.36,184.775,182.19,179.605],"labels":false,"title":null}},"y2":{"field":"h"},"color":{"condition":{"test":"datum.c >= datum.o","value":"#1fe81f"},"value":"#ee1515"}}},
 {"data":{"name":"GBPJPY"},"mark":{"type":"bar","width":2.3},"encoding":{"x":{"field":"d","type":"temporal","title":null},"y":{"field":"o","type":"quantitative","title":null},"y2":{"field":"c"},"color":{"condition":{"test":"datum.c >= datum.o","value":"#1fe81f"},"value":"#ee1515"}}},
 {"data":{"name":"GBPJPY"},"mark":{"type":"line","color":"#9a9a9a","strokeWidth":0.7},"encoding":{"x":{"field":"d","type":"temporal","title":null},"y":{"field":"c","type":"quantitative","title":null}}},
 {"data":{"name":"GBPJPY_m"},"mark":{"type":"line","color":"#f2d500","strokeWidth":1.1},"encoding":{"x":{"field":"d","type":"temporal","title":null},"y":{"field":"v","type":"quantitative","title":null}}},
 {"data":{"values":[{}]},"mark":{"type":"rule","color":"#6a6a6a","strokeWidth":0.6},"encoding":{"y":{"datum":189.95,"type":"quantitative","title":null}}},
 {"data":{"name":"GBPJPY_t"},"mark":{"type":"text","align":"left","baseline":"middle","fontSize":4.2,"color":"#dcdcdc"},"encoding":{"x":{"datum":{"year":2025,"month":3,"date":28},"type":"temporal","title":null},"y":{"field":"v","type":"quantitative","title":null},"text":{"field":"v","type":"quantitative","format":".3f"}}},
 {"data":{"values":[{}]},"mark":{"type":"rect","color":"#ffffff"},"encoding":{"x":{"datum":{"year":2025,"month":3,"date":26},"type":"temporal","title":null},"x2":{"datum":{"year":2025,"month":5,"date":3}},"y":{"datum":190.447,"type":"quantitative","title":null},"y2":{"datum":189.453}}},
 {"data":{"values":[{}]},"mark":{"type":"text","text":"189.950","align":"left","baseline":"middle","fontSize":4.2,"color":"#000000"},"encoding":{"x":{"datum":{"year":2025,"month":3,"date":28},"type":"temporal","title":null},"y":{"datum":189.95,"type":"quantitative","title":null}}},
 {"data":{"values":[{}]},"mark":{"type":"rect","color":"#ffff00"},"encoding":{"x":{"datum":{"year":2024,"month":6,"date":11},"type":"temporal","title":null},"x2":{"datum":{"year":2024,"month":8,"date":28}},"y":{"datum":209.179,"type":"quantitative","title":null},"y2":{"datum":207.936}}},
 {"data":{"values":[{}]},"mark":{"type":"text","text":"APB/HA on/off","color":"#0000ff","fontSize":5,"fontWeight":"bold","align":"center","baseline":"middle"},"encoding":{"x":{"datum":{"year":2024,"month":7,"date":20},"type":"temporal","title":null},"y":{"datum":208.557,"type":"quantitative","title":null}}},
 {"data":{"values":[{}]},"mark":{"type":"text","text":"GBPJPY W1","color":"#ff00ff","fontSize":5.5,"fontWeight":"bold","align":"right","baseline":"middle"},"encoding":{"x":{"datum":{"year":2025,"month":3,"date":18},"type":"temporal","title":null},"y":{"datum":208.557,"type":"quantitative","title":null}}},
 {"data":{"values":[{}]},"mark":{"type":"text","text":"\"TMS 5-Method\"","color":"#e3c21a","fontSize":5.5,"align":"right","baseline":"middle"},"encoding":{"x":{"datum":{"year":2025,"month":3,"date":18},"type":"temporal","title":null},"y":{"datum":206.797,"type":"quantitative","title":null}}},
 {"data":{"values":[{}]},"mark":{"type":"text","text":"Copyright©2016","color":"#4a4a4a","fontSize":5,"align":"right","baseline":"middle"},"encoding":{"x":{"datum":{"year":2025,"month":3,"date":6},"type":"temporal","title":null},"y":{"datum":182.359,"type":"quantitative","title":null}}},
 {"data":{"values":[{}]},"mark":{"type":"text","text":"5D -- 09:04:28","color":"#e6dc00","fontSize":5.8,"fontWeight":"bold","font":"Liberation Mono","align":"right","baseline":"middle"},"encoding":{"x":{"datum":{"year":2025,"month":3,"date":18},"type":"temporal","title":null},"y":{"datum":181.013,"type":"quantitative","title":null}}}
]}
]},
{"hconcat":[
{"title":{"text":"EURUSD,Weekly"},"width":152,"height":154,"layer":[
 {"data":{"name":"EURUSD"},"mark":{"type":"rule","strokeWidth":0.8},"encoding":{"x":{"field":"d","type":"temporal","scale":{"domain":[{"year":2024,"month":5,"date":19},{"year":2025,"month":5,"date":3}],"nice":false,"padding":0},"axis":{"orient":"bottom","offset":-5.5,"values":[{"year":2024,"month":5,"date":26},{"year":2024,"month":7,"date":21},{"year":2024,"month":9,"date":15},{"year":2024,"month":11,"date":10}],"format":"%d %b %Y","labelAlign":"left","labelFontSize":3.8,"labelOverlap":false,"title":null}},"y":{"field":"l","type":"quantitative","scale":{"domain":[1.02715,1.1277],"nice":false,"zero":false,"padding":0},"axis":{"orient":"right","offset":-18,"values":[1.1215,1.11335,1.1052,1.09705,1.0889,1.08075,1.0726,1.06445,1.0563,1.04815,1.04,1.03185],"labels":false,"title":null}},"y2":{"field":"h"},"color":{"condition":{"test":"datum.c >= datum.o","value":"#1fe81f"},"value":"#ee1515"}}},
 {"data":{"name":"EURUSD"},"mark":{"type":"bar","width":2.3},"encoding":{"x":{"field":"d","type":"temporal","title":null},"y":{"field":"o","type":"quantitative","title":null},"y2":{"field":"c"},"color":{"condition":{"test":"datum.c >= datum.o","value":"#1fe81f"},"value":"#ee1515"}}},
 {"data":{"name":"EURUSD"},"mark":{"type":"line","color":"#9a9a9a","strokeWidth":0.7},"encoding":{"x":{"field":"d","type":"temporal","title":null},"y":{"field":"c","type":"quantitative","title":null}}},
 {"data":{"name":"EURUSD_m"},"mark":{"type":"line","color":"#f2d500","strokeWidth":1.1},"encoding":{"x":{"field":"d","type":"temporal","title":null},"y":{"field":"v","type":"quantitative","title":null}}},
 {"data":{"values":[{}]},"mark":{"type":"rule","color":"#6a6a6a","strokeWidth":0.6},"encoding":{"y":{"datum":1.0498,"type":"quantitative","title":null}}},
 {"data":{"name":"EURUSD_t"},"mark":{"type":"text","align":"left","baseline":"middle","fontSize":4.2,"color":"#dcdcdc"},"encoding":{"x":{"datum":{"year":2025,"month":3,"date":28},"type":"temporal","title":null},"y":{"field":"v","type":"quantitative","title":null},"text":{"field":"v","type":"quantitative","format":".5f"}}},
 {"data":{"values":[{}]},"mark":{"type":"rect","color":"#ffffff"},"encoding":{"x":{"datum":{"year":2025,"month":3,"date":26},"type":"temporal","title":null},"x2":{"datum":{"year":2025,"month":5,"date":3}},"y":{"datum":1.05137,"type":"quantitative","title":null},"y2":{"datum":1.04823}}},
 {"data":{"values":[{}]},"mark":{"type":"text","text":"1.04980","align":"left","baseline":"middle","fontSize":4.2,"color":"#000000"},"encoding":{"x":{"datum":{"year":2025,"month":3,"date":28},"type":"temporal","title":null},"y":{"datum":1.0498,"type":"quantitative","title":null}}},
 {"data":{"values":[{}]},"mark":{"type":"rect","color":"#ffff00"},"encoding":{"x":{"datum":{"year":2024,"month":6,"date":11},"type":"temporal","title":null},"x2":{"datum":{"year":2024,"month":8,"date":28}},"y":{"datum":1.125091,"type":"quantitative","title":null},"y2":{"datum":1.121173}}},
 {"data":{"values":[{}]},"mark":{"type":"text","text":"APB/HA on/off","color":"#0000ff","fontSize":5,"fontWeight":"bold","align":"center","baseline":"middle"},"encoding":{"x":{"datum":{"year":2024,"month":7,"date":20},"type":"temporal","title":null},"y":{"datum":1.123132,"type":"quantitative","title":null}}},
 {"data":{"values":[{}]},"mark":{"type":"text","text":"EURUSD W1","color":"#ff00ff","fontSize":5.5,"fontWeight":"bold","align":"right","baseline":"middle"},"encoding":{"x":{"datum":{"year":2025,"month":3,"date":18},"type":"temporal","title":null},"y":{"datum":1.123132,"type":"quantitative","title":null}}},
 {"data":{"values":[{}]},"mark":{"type":"text","text":"\"TMS 5-Method\"","color":"#e3c21a","fontSize":5.5,"align":"right","baseline":"middle"},"encoding":{"x":{"datum":{"year":2025,"month":3,"date":18},"type":"temporal","title":null},"y":{"datum":1.117581,"type":"quantitative","title":null}}},
 {"data":{"values":[{}]},"mark":{"type":"text","text":"Copyright©2016","color":"#4a4a4a","fontSize":5,"align":"right","baseline":"middle"},"encoding":{"x":{"datum":{"year":2025,"month":3,"date":6},"type":"temporal","title":null},"y":{"datum":1.040527,"type":"quantitative","title":null}}},
 {"data":{"values":[{}]},"mark":{"type":"text","text":"5D -- 09:04:28","color":"#e6dc00","fontSize":5.8,"fontWeight":"bold","font":"Liberation Mono","align":"right","baseline":"middle"},"encoding":{"x":{"datum":{"year":2025,"month":3,"date":18},"type":"temporal","title":null},"y":{"datum":1.036283,"type":"quantitative","title":null}}}
]},
{"title":{"text":"USDCAD,Weekly"},"width":152,"height":154,"layer":[
 {"data":{"name":"USDCAD"},"mark":{"type":"rule","strokeWidth":0.8},"encoding":{"x":{"field":"d","type":"temporal","scale":{"domain":[{"year":2024,"month":5,"date":19},{"year":2025,"month":5,"date":3}],"nice":false,"padding":0},"axis":{"orient":"bottom","offset":-5.5,"values":[{"year":2024,"month":5,"date":26},{"year":2024,"month":7,"date":21},{"year":2024,"month":9,"date":15},{"year":2024,"month":11,"date":10}],"format":"%d %b %Y","labelAlign":"left","labelFontSize":3.8,"labelOverlap":false,"title":null}},"y":{"field":"l","type":"quantitative","scale":{"domain":[1.33656,1.42293],"nice":false,"zero":false,"padding":0},"axis":{"orient":"right","offset":-18,"values":[1.4176,1.4106,1.4036,1.3966,1.3896,1.3826,1.3756,1.3686,1.3616,1.3546,1.3476,1.3406],"labels":false,"title":null}},"y2":{"field":"h"},"color":{"condition":{"test":"datum.c >= datum.o","value":"#1fe81f"},"value":"#ee1515"}}},
 {"data":{"name":"USDCAD"},"mark":{"type":"bar","width":2.3},"encoding":{"x":{"field":"d","type":"temporal","title":null},"y":{"field":"o","type":"quantitative","title":null},"y2":{"field":"c"},"color":{"condition":{"test":"datum.c >= datum.o","value":"#1fe81f"},"value":"#ee1515"}}},
 {"data":{"name":"USDCAD"},"mark":{"type":"line","color":"#9a9a9a","strokeWidth":0.7},"encoding":{"x":{"field":"d","type":"temporal","title":null},"y":{"field":"c","type":"quantitative","title":null}}},
 {"data":{"name":"USDCAD_m"},"mark":{"type":"line","color":"#f2d500","strokeWidth":1.1},"encoding":{"x":{"field":"d","type":"temporal","title":null},"y":{"field":"v","type":"quantitative","title":null}}},
 {"data":{"values":[{}]},"mark":{"type":"rule","color":"#6a6a6a","strokeWidth":0.6},"encoding":{"y":{"datum":1.4041,"type":"quantitative","title":null}}},
 {"data":{"name":"USDCAD_t"},"mark":{"type":"text","align":"left","baseline":"middle","fontSize":4.2,"color":"#dcdcdc"},"encoding":{"x":{"datum":{"year":2025,"month":3,"date":28},"type":"temporal","title":null},"y":{"field":"v","type":"quantitative","title":null},"text":{"field":"v","type":"quantitative","format":".5f"}}},
 {"data":{"values":[{}]},"mark":{"type":"rect","color":"#ffffff"},"encoding":{"x":{"datum":{"year":2025,"month":3,"date":26},"type":"temporal","title":null},"x2":{"datum":{"year":2025,"month":5,"date":3}},"y":{"datum":1.40545,"type":"quantitative","title":null},"y2":{"datum":1.40275}}},
 {"data":{"values":[{}]},"mark":{"type":"text","text":"1.40410","align":"left","baseline":"middle","fontSize":4.2,"color":"#000000"},"encoding":{"x":{"datum":{"year":2025,"month":3,"date":28},"type":"temporal","title":null},"y":{"datum":1.4041,"type":"quantitative","title":null}}},
 {"data":{"values":[{}]},"mark":{"type":"rect","color":"#ffff00"},"encoding":{"x":{"datum":{"year":2024,"month":6,"date":11},"type":"temporal","title":null},"x2":{"datum":{"year":2024,"month":8,"date":28}},"y":{"datum":1.420685,"type":"quantitative","title":null},"y2":{"datum":1.41732}}},
 {"data":{"values":[{}]},"mark":{"type":"text","text":"APB/HA on/off","color":"#0000ff","fontSize":5,"fontWeight":"bold","align":"center","baseline":"middle"},"encoding":{"x":{"datum":{"year":2024,"month":7,"date":20},"type":"temporal","title":null},"y":{"datum":1.419002,"type":"quantitative","title":null}}},
 {"data":{"values":[{}]},"mark":{"type":"text","text":"USDCAD W1","color":"#ff00ff","fontSize":5.5,"fontWeight":"bold","align":"right","baseline":"middle"},"encoding":{"x":{"datum":{"year":2025,"month":3,"date":18},"type":"temporal","title":null},"y":{"datum":1.419002,"type":"quantitative","title":null}}},
 {"data":{"values":[{}]},"mark":{"type":"text","text":"\"TMS 5-Method\"","color":"#e3c21a","fontSize":5.5,"align":"right","baseline":"middle"},"encoding":{"x":{"datum":{"year":2025,"month":3,"date":18},"type":"temporal","title":null},"y":{"datum":1.414236,"type":"quantitative","title":null}}},
 {"data":{"values":[{}]},"mark":{"type":"text","text":"Copyright©2016","color":"#4a4a4a","fontSize":5,"align":"right","baseline":"middle"},"encoding":{"x":{"datum":{"year":2025,"month":3,"date":6},"type":"temporal","title":null},"y":{"datum":1.348061,"type":"quantitative","title":null}}},
 {"data":{"values":[{}]},"mark":{"type":"text","text":"5D -- 09:04:28","color":"#e6dc00","fontSize":5.8,"fontWeight":"bold","font":"Liberation Mono","align":"right","baseline":"middle"},"encoding":{"x":{"datum":{"year":2025,"month":3,"date":18},"type":"temporal","title":null},"y":{"datum":1.344416,"type":"quantitative","title":null}}}
]},
{"title":{"text":"EURJPY,Weekly"},"width":152,"height":154,"layer":[
 {"data":{"name":"EURJPY"},"mark":{"type":"rule","strokeWidth":0.8},"encoding":{"x":{"field":"d","type":"temporal","scale":{"domain":[{"year":2024,"month":5,"date":19},{"year":2025,"month":5,"date":3}],"nice":false,"padding":0},"axis":{"orient":"bottom","offset":-5.5,"values":[{"year":2024,"month":5,"date":26},{"year":2024,"month":7,"date":21},{"year":2024,"month":9,"date":15},{"year":2024,"month":11,"date":10}],"format":"%d %b %Y","labelAlign":"left","labelFontSize":3.8,"labelOverlap":false,"title":null}},"y":{"field":"l","type":"quantitative","scale":{"domain":[152.916,176.852],"nice":false,"zero":false,"padding":0},"axis":{"orient":"right","offset":-18,"values":[175.375,173.435,171.495,169.555,167.615,165.675,163.735,161.795,159.855,157.915,155.975,154.035],"labels":false,"title":null}},"y2":{"field":"h"},"color":{"condition":{"test":"datum.c >= datum.o","value":"#1fe81f"},"value":"#ee1515"}}},
 {"data":{"name":"EURJPY"},"mark":{"type":"bar","width":2.3},"encoding":{"x":{"field":"d","type":"temporal","title":null},"y":{"field":"o","type":"quantitative","title":null},"y2":{"field":"c"},"color":{"condition":{"test":"datum.c >= datum.o","value":"#1fe81f"},"value":"#ee1515"}}},
 {"data":{"name":"EURJPY"},"mark":{"type":"line","color":"#9a9a9a","strokeWidth":0.7},"encoding":{"x":{"field":"d","type":"temporal","title":null},"y":{"field":"c","type":"quantitative","title":null}}},
 {"data":{"name":"EURJPY_m"},"mark":{"type":"line","color":"#f2d500","strokeWidth":1.1},"encoding":{"x":{"field":"d","type":"temporal","title":null},"y":{"field":"v","type":"quantitative","title":null}}},
 {"data":{"values":[{}]},"mark":{"type":"rule","color":"#6a6a6a","strokeWidth":0.6},"encoding":{"y":{"datum":157.8,"type":"quantitative","title":null}}},
 {"data":{"name":"EURJPY_t"},"mark":{"type":"text","align":"left","baseline":"middle","fontSize":4.2,"color":"#dcdcdc"},"encoding":{"x":{"datum":{"year":2025,"month":3,"date":28},"type":"temporal","title":null},"y":{"field":"v","type":"quantitative","title":null},"text":{"field":"v","type":"quantitative","format":".3f"}}},
 {"data":{"values":[{}]},"mark":{"type":"rect","color":"#ffffff"},"encoding":{"x":{"datum":{"year":2025,"month":3,"date":26},"type":"temporal","title":null},"x2":{"datum":{"year":2025,"month":5,"date":3}},"y":{"datum":158.173,"type":"quantitative","title":null},"y2":{"datum":157.427}}},
 {"data":{"values":[{}]},"mark":{"type":"text","text":"157.800","align":"left","baseline":"middle","fontSize":4.2,"color":"#000000"},"encoding":{"x":{"datum":{"year":2025,"month":3,"date":28},"type":"temporal","title":null},"y":{"datum":157.8,"type":"quantitative","title":null}}},
 {"data":{"values":[{}]},"mark":{"type":"rect","color":"#ffff00"},"encoding":{"x":{"datum":{"year":2024,"month":6,"date":11},"type":"temporal","title":null},"x2":{"datum":{"year":2024,"month":8,"date":28}},"y":{"datum":176.23,"type":"quantitative","title":null},"y2":{"datum":175.298}}},
 {"data":{"values":[{}]},"mark":{"type":"text","text":"APB/HA on/off","color":"#0000ff","fontSize":5,"fontWeight":"bold","align":"center","baseline":"middle"},"encoding":{"x":{"datum":{"year":2024,"month":7,"date":20},"type":"temporal","title":null},"y":{"datum":175.764,"type":"quantitative","title":null}}},
 {"data":{"values":[{}]},"mark":{"type":"text","text":"EURJPY W1","color":"#ff00ff","fontSize":5.5,"fontWeight":"bold","align":"right","baseline":"middle"},"encoding":{"x":{"datum":{"year":2025,"month":3,"date":18},"type":"temporal","title":null},"y":{"datum":175.764,"type":"quantitative","title":null}}},
 {"data":{"values":[{}]},"mark":{"type":"text","text":"\"TMS 5-Method\"","color":"#e3c21a","fontSize":5.5,"align":"right","baseline":"middle"},"encoding":{"x":{"datum":{"year":2025,"month":3,"date":18},"type":"temporal","title":null},"y":{"datum":174.443,"type":"quantitative","title":null}}},
 {"data":{"values":[{}]},"mark":{"type":"text","text":"Copyright©2016","color":"#4a4a4a","fontSize":5,"align":"right","baseline":"middle"},"encoding":{"x":{"datum":{"year":2025,"month":3,"date":6},"type":"temporal","title":null},"y":{"datum":156.102,"type":"quantitative","title":null}}},
 {"data":{"values":[{}]},"mark":{"type":"text","text":"5D -- 09:04:28","color":"#e6dc00","fontSize":5.8,"fontWeight":"bold","font":"Liberation Mono","align":"right","baseline":"middle"},"encoding":{"x":{"datum":{"year":2025,"month":3,"date":18},"type":"temporal","title":null},"y":{"datum":155.092,"type":"quantitative","title":null}}}
]},
{"title":{"text":"USDJPY,Weekly"},"width":152,"height":154,"layer":[
 {"data":{"name":"USDJPY"},"mark":{"type":"rule","strokeWidth":0.8},"encoding":{"x":{"field":"d","type":"temporal","scale":{"domain":[{"year":2024,"month":5,"date":19},{"year":2025,"month":5,"date":3}],"nice":false,"padding":0},"axis":{"orient":"bottom","offset":-5.5,"values":[{"year":2024,"month":5,"date":26},{"year":2024,"month":7,"date":21},{"year":2024,"month":9,"date":15},{"year":2024,"month":11,"date":10}],"format":"%d %b %Y","labelAlign":"left","labelFontSize":3.8,"labelOverlap":false,"title":null}},"y":{"field":"l","type":"quantitative","scale":{"domain":[137.91,163.573],"nice":false,"zero":false,"padding":0},"axis":{"orient":"right","offset":-18,"values":[161.99,159.91,157.83,155.75,153.67,151.59,149.51,147.43,145.35,143.27,141.19,139.11],"labels":false,"title":null}},"y2":{"field":"h"},"color":{"condition":{"test":"datum.c >= datum.o","value":"#1fe81f"},"value":"#ee1515"}}},
 {"data":{"name":"USDJPY"},"mark":{"type":"bar","width":2.3},"encoding":{"x":{"field":"d","type":"temporal","title":null},"y":{"field":"o","type":"quantitative","title":null},"y2":{"field":"c"},"color":{"condition":{"test":"datum.c >= datum.o","value":"#1fe81f"},"value":"#ee1515"}}},
 {"data":{"name":"USDJPY"},"mark":{"type":"line","color":"#9a9a9a","strokeWidth":0.7},"encoding":{"x":{"field":"d","type":"temporal","title":null},"y":{"field":"c","type":"quantitative","title":null}}},
 {"data":{"name":"USDJPY_m"},"mark":{"type":"line","color":"#f2d500","strokeWidth":1.1},"encoding":{"x":{"field":"d","type":"temporal","title":null},"y":{"field":"v","type":"quantitative","title":null}}},
 {"data":{"values":[{}]},"mark":{"type":"rule","color":"#6a6a6a","strokeWidth":0.6},"encoding":{"y":{"datum":149.94,"type":"quantitative","title":null}}},
 {"data":{"name":"USDJPY_t"},"mark":{"type":"text","align":"left","baseline":"middle","fontSize":4.2,"color":"#dcdcdc"},"encoding":{"x":{"datum":{"year":2025,"month":3,"date":28},"type":"temporal","title":null},"y":{"field":"v","type":"quantitative","title":null},"text":{"field":"v","type":"quantitative","format":".3f"}}},
 {"data":{"values":[{}]},"mark":{"type":"rect","color":"#ffffff"},"encoding":{"x":{"datum":{"year":2025,"month":3,"date":26},"type":"temporal","title":null},"x2":{"datum":{"year":2025,"month":5,"date":3}},"y":{"datum":150.34,"type":"quantitative","title":null},"y2":{"datum":149.54}}},
 {"data":{"values":[{}]},"mark":{"type":"text","text":"149.940","align":"left","baseline":"middle","fontSize":4.2,"color":"#000000"},"encoding":{"x":{"datum":{"year":2025,"month":3,"date":28},"type":"temporal","title":null},"y":{"datum":149.94,"type":"quantitative","title":null}}},
 {"data":{"values":[{}]},"mark":{"type":"rect","color":"#ffff00"},"encoding":{"x":{"datum":{"year":2024,"month":6,"date":11},"type":"temporal","title":null},"x2":{"datum":{"year":2024,"month":8,"date":28}},"y":{"datum":162.906,"type":"quantitative","title":null},"y2":{"datum":161.907}}},
 {"data":{"values":[{}]},"mark":{"type":"text","text":"APB/HA on/off","color":"#0000ff","fontSize":5,"fontWeight":"bold","align":"center","baseline":"middle"},"encoding":{"x":{"datum":{"year":2024,"month":7,"date":20},"type":"temporal","title":null},"y":{"datum":162.407,"type":"quantitative","title":null}}},
 {"data":{"values":[{}]},"mark":{"type":"text","text":"USDJPY W1","color":"#ff00ff","fontSize":5.5,"fontWeight":"bold","align":"right","baseline":"middle"},"encoding":{"x":{"datum":{"year":2025,"month":3,"date":18},"type":"temporal","title":null},"y":{"datum":162.407,"type":"quantitative","title":null}}},
 {"data":{"values":[{}]},"mark":{"type":"text","text":"\"TMS 5-Method\"","color":"#e3c21a","fontSize":5.5,"align":"right","baseline":"middle"},"encoding":{"x":{"datum":{"year":2025,"month":3,"date":18},"type":"temporal","title":null},"y":{"datum":160.99,"type":"quantitative","title":null}}},
 {"data":{"values":[{}]},"mark":{"type":"text","text":"Copyright©2016","color":"#4a4a4a","fontSize":5,"align":"right","baseline":"middle"},"encoding":{"x":{"datum":{"year":2025,"month":3,"date":6},"type":"temporal","title":null},"y":{"datum":141.327,"type":"quantitative","title":null}}},
 {"data":{"values":[{}]},"mark":{"type":"text","text":"5D -- 09:04:28","color":"#e6dc00","fontSize":5.8,"fontWeight":"bold","font":"Liberation Mono","align":"right","baseline":"middle"},"encoding":{"x":{"datum":{"year":2025,"month":3,"date":18},"type":"temporal","title":null},"y":{"datum":140.243,"type":"quantitative","title":null}}}
]}
]}
]
}
